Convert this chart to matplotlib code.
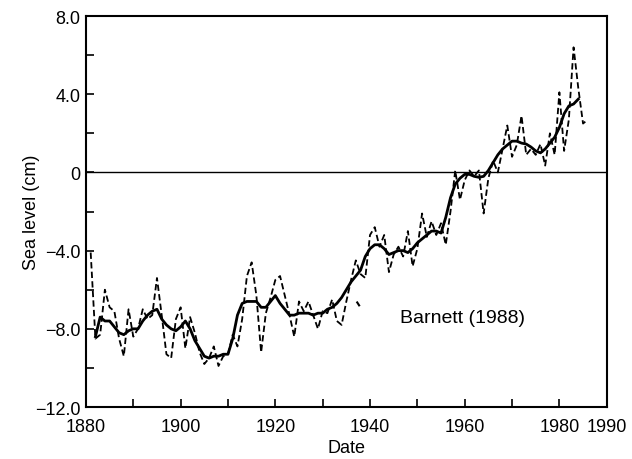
import matplotlib
matplotlib.use("Agg")
import matplotlib.pyplot as plt
from matplotlib.ticker import MultipleLocator, FixedLocator

plt.rcParams['font.family'] = ['Liberation Sans', 'DejaVu Sans']

# Annual mean sea level (cm), 1881-1986
annual_years = list(range(1881, 1987))
annual_level = [
    -4.1, -8.5, -8.3, -6.0, -6.9, -7.1, -8.5, -9.4, -7.0, -8.4,   # 1881-1890
    -8.0, -7.0, -7.5, -7.3, -5.4, -7.3, -9.3, -9.5, -7.5, -6.9,   # 1891-1900
    -9.0, -7.4, -8.2, -9.2, -9.8, -9.5, -8.9, -9.9, -9.4, -9.3,   # 1901-1910
    -8.3, -8.9, -7.5, -5.3, -4.6, -6.3, -9.2, -7.2, -6.4, -5.5,   # 1911-1920
    -5.3, -6.3, -7.3, -8.4, -6.6, -7.1, -6.6, -7.3, -8.0, -7.1,   # 1921-1930
    -7.2, -6.5, -7.6, -7.8, -6.6, -5.5, -4.5, -5.2, -5.4, -3.2,   # 1931-1940
    -2.8, -3.8, -3.2, -5.1, -4.2, -3.8, -4.3, -3.0, -4.8, -3.9,   # 1941-1950
    -2.1, -3.3, -2.5, -3.2, -2.6, -3.7, -2.0, 0.1, -1.4, -0.4,    # 1951-1960
    0.1, -0.2, 0.1, -2.1, -0.3, 0.6, 0.0, 1.2, 2.4, 0.8,          # 1961-1970
    1.4, 2.9, 0.9, 1.2, 0.9, 1.45, 0.35, 2.0, 0.9, 4.1,           # 1971-1980
    1.1, 2.7, 6.4, 4.3, 2.5, 2.7,                                 # 1981-1986
]

# Smoothed sea level (cm), 1882-1984
smooth_years = list(range(1882, 1985))
smooth_level = [
    -8.4, -7.4, -7.6, -7.6, -7.9, -8.2, -8.3, -8.1, -8.0,         # 1882-1890
    -8.0, -7.6, -7.3, -7.1, -7.0, -7.5, -7.8, -8.0, -8.1, -7.9,   # 1891-1900
    -7.6, -8.0, -8.6, -9.0, -9.4, -9.5, -9.4, -9.4, -9.3, -9.3,   # 1901-1910
    -8.5, -7.3, -6.7, -6.6, -6.6, -6.6, -6.9, -6.9, -6.6, -6.3,   # 1911-1920
    -6.7, -7.0, -7.3, -7.3, -7.2, -7.2, -7.2, -7.3, -7.2, -7.2,   # 1921-1930
    -7.0, -6.9, -6.7, -6.4, -6.0, -5.6, -5.3, -5.0, -4.3, -3.9,   # 1931-1940
    -3.7, -3.7, -3.9, -4.2, -4.1, -4.0, -4.0, -4.1, -3.9, -3.6,   # 1941-1950
    -3.4, -3.2, -3.0, -3.0, -3.1, -2.3, -1.3, -0.6, -0.3, -0.1,   # 1951-1960
    -0.1, -0.2, -0.25, -0.2, 0.1, 0.5, 0.9, 1.2, 1.4, 1.6,        # 1961-1970
    1.6, 1.5, 1.45, 1.3, 1.1, 1.0, 1.2, 1.5, 1.8, 2.3,            # 1971-1980
    3.0, 3.4, 3.5, 3.75,                                          # 1981-1984
]

# Isolated fragment below the curve near 1937
stray_years = [1937.3, 1937.7]
stray_level = [-6.65, -6.8]

x_ticks = [1880, 1890, 1900, 1910, 1920, 1930, 1940, 1950, 1960, 1970, 1980, 1990]
x_labels = ['1880', '', '1900', '', '1920', '', '1940', '', '1960', '', '1980', '1990']
y_ticks = [8, 4, 0, -4, -8, -12]
y_labels = ['8.0', '4.0', '0', '\u22124.0', '\u22128.0', '\u221212.0']

fig = plt.figure(figsize=(6.32, 4.6), dpi=100)
ax = fig.add_axes([0.136, 0.113, 0.824, 0.850])

ax.axhline(0, color='black', lw=1.0, zorder=1)
ax.plot(annual_years, annual_level, color='black', lw=1.3,
        linestyle=(0, (3.5, 1.8)), zorder=2)
ax.plot(smooth_years, smooth_level, color='black', lw=2.0, zorder=3)
ax.plot(stray_years, stray_level, color='black', lw=1.5, zorder=3)

ax.text(1946.3, -7.4, 'Barnett (1988)', fontsize=14, ha='left', va='center')

ax.set_xlim(1880, 1990)
ax.set_ylim(-12, 8)
ax.xaxis.set_major_locator(FixedLocator(x_ticks))
ax.set_xticklabels(x_labels)
ax.yaxis.set_major_locator(FixedLocator(y_ticks))
ax.set_yticklabels(y_labels)
ax.yaxis.set_minor_locator(MultipleLocator(2))

ax.tick_params(which='both', direction='in', width=1.2, labelsize=13,
               colors='black', top=False, right=False)
ax.tick_params(which='major', length=6)
ax.tick_params(which='minor', length=6)
ax.tick_params(axis='x', which='major', pad=8)
ax.tick_params(axis='y', which='major', pad=4)

for s in ax.spines.values():
    s.set_linewidth(1.5)

ax.set_xlabel('Date', fontsize=13, labelpad=3)
ax.set_ylabel('Sea level (cm)', fontsize=13, labelpad=-4)

fig.savefig('out.png', dpi=100, facecolor='white')
